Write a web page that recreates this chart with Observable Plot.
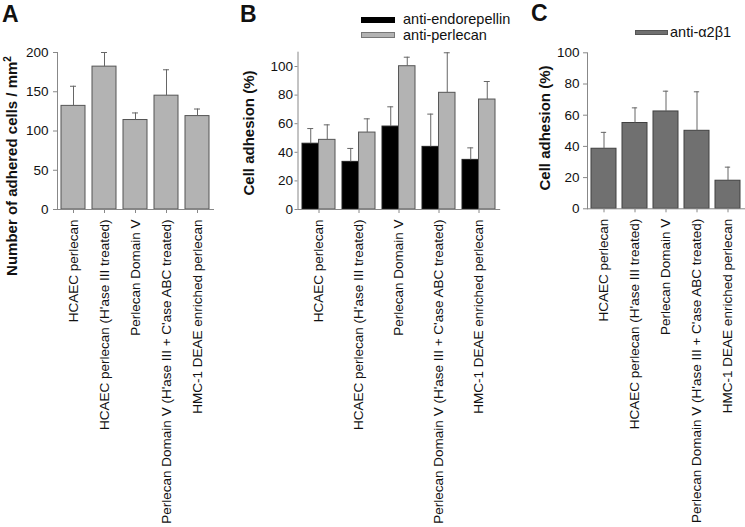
<!DOCTYPE html>
<html><head><meta charset="utf-8">
<script src="https://cdn.jsdelivr.net/npm/d3@7"></script>
<script src="https://cdn.jsdelivr.net/npm/@observablehq/plot@0.6"></script>
<style>
body{margin:0;background:#fff;}
#wrap{position:relative;width:745px;height:527px;overflow:hidden;font-family:"Liberation Sans",Arial,sans-serif;color:#111;background:#fff;}
.panel{position:absolute;top:0;}
.letter{position:absolute;font-weight:bold;font-size:23px;line-height:1;}
.ytitle{position:absolute;font-weight:bold;font-size:15px;white-space:nowrap;transform:translate(-50%,-50%) rotate(-90deg);line-height:1;}
.ytitle sup{font-size:10px;vertical-align:6px;line-height:0;}
.leg{position:absolute;font-size:14.5px;white-space:nowrap;line-height:0.9;transform:translateY(-50%);}
.sw{position:absolute;box-sizing:border-box;}
</style></head><body><div id="wrap"></div>
<script>
// ---- data ----
const categories = [
  "HCAEC perlecan",
  "HCAEC perlecan (H'ase III treated)",
  "Perlecan Domain V",
  "Perlecan Domain V (H'ase III + C'ase ABC treated)",
  "HMC-1 DEAE enriched perlecan"
];
const adheredMean = [132, 182, 114, 145, 119];
const adheredErr  = [25, 18, 9, 33, 9];
const endoMean = [46, 33.3, 58, 43.8, 34.7];
const endoErr  = [10.6, 9.4, 13.8, 22.9, 8.4];
const perlMean = [48.7, 53.8, 100.2, 81.6, 76.9];
const perlErr  = [10.5, 9.6, 6.3, 28, 12.6];
const a2b1Mean = [38.5, 55, 62.4, 50, 18];
const a2b1Err  = [10.5, 9.7, 13, 25, 8.7];
const yTicksA = [0, 50, 100, 150, 200];
const yTicksPct = [0, 20, 40, 60, 80, 100];
const panelLetters = ["A", "B", "C"];
const titleA = "Number of adhered cells / mm";
const titlePct = "Cell adhesion (%)";
const seriesB = ["anti-endorepellin", "anti-perlecan"];
const seriesC = ["anti-\u03b12\u03b21"];

// ---- tables ----
const tableA = categories.map((c, i) => ({cat: c, v: adheredMean[i], top: adheredMean[i] + adheredErr[i]}));
const tableB = categories.map((c, i) => ({cat: c, e: endoMean[i], eTop: endoMean[i] + endoErr[i], p: perlMean[i], pTop: perlMean[i] + perlErr[i]}));
const tableC = categories.map((c, i) => ({cat: c, v: a2b1Mean[i], top: a2b1Mean[i] + a2b1Err[i]}));

const FONT = "'Liberation Sans', Arial, sans-serif";
const FS = 13.5;
const AX = "#888";
const ERR = "#666";
const baseStyle = {fontFamily: FONT, fontSize: FS + "px", color: "#111", background: "transparent", overflow: "visible"};
const wrap = document.getElementById("wrap");

function place(el, left) {
  el.classList.add("panel");
  el.style.left = left + "px";
  wrap.appendChild(el);
}

// Panel A
const plotA = Plot.plot({
  width: 228, height: 527, marginLeft: 57, marginRight: 14, marginTop: 52, marginBottom: 318,
  style: baseStyle,
  x: {domain: categories, paddingInner: 0.213, paddingOuter: 0.063},
  y: {domain: [0, 200]},
  marks: [
    Plot.barY(tableA, {x: "cat", y: "v", fill: "#b3b3b3", stroke: "#555", strokeWidth: 1}),
    Plot.ruleX(tableA, {x: "cat", y1: "v", y2: "top", stroke: ERR}),
    Plot.tickY(tableA, {x: "cat", y: "top", stroke: ERR, insetLeft: 9, insetRight: 9}),
    Plot.ruleY([0], {stroke: AX}),
    Plot.frame({anchor: "left", stroke: AX}),
    Plot.axisY({ticks: yTicksA, tickSize: 4, tickPadding: 5, stroke: AX, fontSize: FS, label: null}),
    Plot.axisX({tickRotate: -90, tickSize: 4, tickPadding: 6, stroke: AX, fontSize: FS, label: null})
  ]
});
place(plotA, 0);

// Panel B
const bwB = 33.06, halfB = bwB / 2, qB = bwB / 4, capB = 3;
const plotB = Plot.plot({
  width: 282, height: 527, marginLeft: 69.5, marginRight: 9.8, marginTop: 51.7, marginBottom: 318,
  style: baseStyle,
  x: {domain: categories, paddingInner: 0.18, paddingOuter: 0.104},
  y: {domain: [0, 110]},
  marks: [
    Plot.barY(tableB, {x: "cat", y: "e", fill: "#000", stroke: "#222", insetRight: halfB}),
    Plot.barY(tableB, {x: "cat", y: "p", fill: "#b3b3b3", stroke: "#555", insetLeft: halfB}),
    Plot.ruleX(tableB, {x: "cat", y1: "e", y2: "eTop", dx: -qB, stroke: ERR}),
    Plot.ruleX(tableB, {x: "cat", y1: "p", y2: "pTop", dx: qB, stroke: ERR}),
    Plot.tickY(tableB, {x: "cat", y: "eTop", stroke: ERR, insetLeft: qB - capB, insetRight: bwB - qB - capB}),
    Plot.tickY(tableB, {x: "cat", y: "pTop", stroke: ERR, insetLeft: bwB - qB - capB, insetRight: qB - capB}),
    Plot.ruleY([0], {stroke: AX}),
    Plot.frame({anchor: "left", stroke: AX}),
    Plot.axisY({ticks: yTicksPct, tickSize: 3, tickPadding: 2, stroke: AX, fontSize: FS, label: null}),
    Plot.axisX({tickRotate: -90, tickSize: 4, tickPadding: 6, stroke: AX, fontSize: FS, label: null})
  ]
});
place(plotB, 228);

// Panel C
const bwC = 25.7, capC = 3;
const plotC = Plot.plot({
  width: 235, height: 527, marginLeft: 77, marginRight: 0, marginTop: 52.3, marginBottom: 318.7,
  style: baseStyle,
  x: {domain: categories, paddingInner: 0.186, paddingOuter: 0.095},
  y: {domain: [0, 100]},
  marks: [
    Plot.barY(tableC, {x: "cat", y: "v", fill: "#707070", stroke: "#404040", strokeWidth: 1}),
    Plot.ruleX(tableC, {x: "cat", y1: "v", y2: "top", stroke: ERR}),
    Plot.tickY(tableC, {x: "cat", y: "top", stroke: ERR, insetLeft: bwC / 2 - capC, insetRight: bwC / 2 - capC}),
    Plot.ruleY([0], {stroke: AX}),
    Plot.frame({anchor: "left", stroke: AX}),
    Plot.axisY({ticks: yTicksPct, tickSize: 4, tickPadding: 4, stroke: AX, fontSize: FS, label: null}),
    Plot.axisX({tickRotate: -90, tickSize: 4, tickPadding: 6, stroke: AX, fontSize: FS, label: null})
  ]
});
place(plotC, 510);

// letters
function addDiv(cls, html, css) { const d = document.createElement("div"); d.className = cls; d.innerHTML = html; Object.assign(d.style, css); wrap.appendChild(d); return d; }
addDiv("letter", panelLetters[0], {left: "2px", top: "3px"});
addDiv("letter", panelLetters[1], {left: "240px", top: "3px"});
addDiv("letter", panelLetters[2], {left: "531px", top: "2px"});

// y titles
addDiv("ytitle", titleA + "<sup>2</sup>", {left: "11px", top: "166px"});
addDiv("ytitle", titlePct, {left: "248px", top: "133px"});
addDiv("ytitle", titlePct, {left: "544px", top: "128px"});

// legends
addDiv("sw", "", {left: "361px", top: "17px", width: "34px", height: "6px", background: "#000"});
addDiv("leg", seriesB[0], {left: "403px", top: "20px"});
addDiv("sw", "", {left: "361px", top: "32px", width: "34px", height: "6px", background: "#b3b3b3", border: "1px solid #777"});
addDiv("leg", seriesB[1], {left: "403px", top: "36px"});
addDiv("sw", "", {left: "635px", top: "30px", width: "33px", height: "5px", background: "#707070", border: "1px solid #555"});
addDiv("leg", seriesC[0], {left: "670px", top: "33px"});
</script>
</body></html>
